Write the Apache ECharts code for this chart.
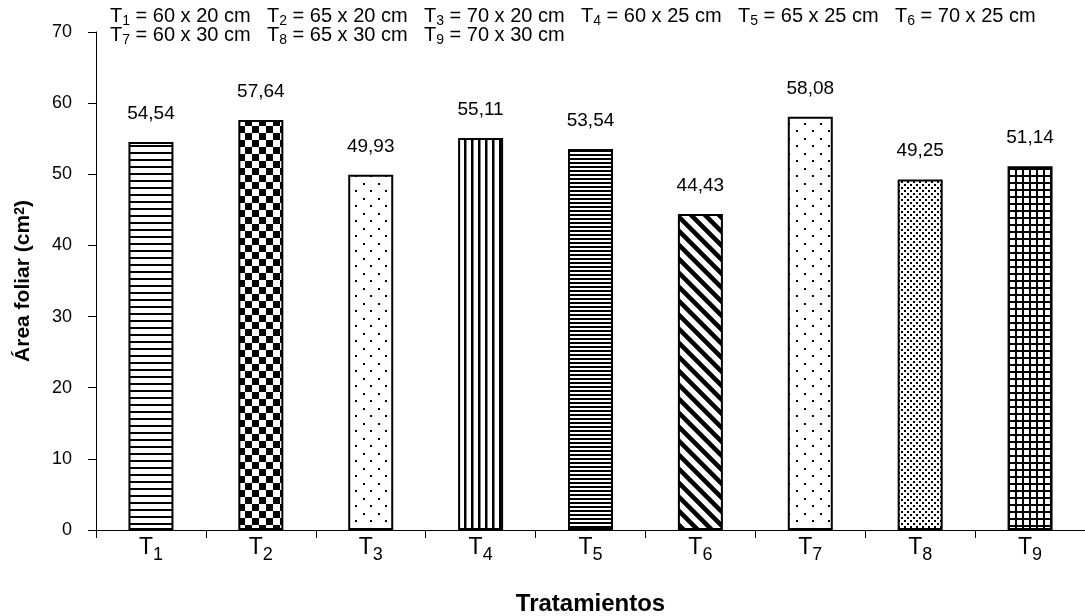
<!DOCTYPE html>
<html>
<head>
<meta charset="utf-8">
<script src="https://cdn.jsdelivr.net/npm/echarts@6/dist/echarts.min.js"></script>
<style>
html,body{margin:0;padding:0;background:#fff;}
#chart{width:1085px;height:616px;}
</style>
</head>
<body>
<div id="chart"></div>
<script>
// ---- data ----
const categories = ['T1','T2','T3','T4','T5','T6','T7','T8','T9'];
const areaFoliar = [54.54, 57.64, 49.93, 55.11, 53.54, 44.43, 58.08, 49.25, 51.14];
const treatmentNames = ['T1','T2','T3','T4','T5','T6','T7','T8','T9'];
const treatmentSpacing = ['60 x 20 cm','65 x 20 cm','70 x 20 cm','60 x 25 cm','65 x 25 cm','70 x 25 cm','60 x 30 cm','65 x 30 cm','70 x 30 cm'];
const yTicks = {min: 0, max: 70, interval: 10};
const xTitle = 'Tratamientos';
const yTitle = 'Área foliar (cm{sup|2})';

const FONT = '"Liberation Sans", Arial, Helvetica, sans-serif';

// ---- fill patterns ----
function mk(w, h, draw) {
  const c = document.createElement('canvas');
  c.width = w; c.height = h;
  const g = c.getContext('2d');
  g.fillStyle = '#fff'; g.fillRect(0, 0, w, h);
  g.fillStyle = '#000'; g.strokeStyle = '#000';
  draw(g, w, h);
  return {image: c, repeat: 'repeat'};
}
const patterns = [
  mk(8, 7, g => g.fillRect(0, 5, 8, 2)),                                   // horizontal lines
  mk(14, 14, g => { g.fillRect(0, 0, 7, 7); g.fillRect(7, 7, 7, 7); }),     // checkerboard
  mk(15, 15, g => { g.fillRect(3, 3, 2, 2); g.fillRect(10, 10, 2, 2); }),   // sparse dots
  mk(7, 4, g => g.fillRect(2, 0, 2.5, 4)),                                  // vertical lines
  mk(6, 4, g => g.fillRect(0, 2, 6, 2)),                                    // dense horizontal
  mk(14, 14, g => { g.lineWidth = 4.5; g.beginPath();
      g.moveTo(-2, -2); g.lineTo(16, 16);
      g.moveTo(-16, -2); g.lineTo(2, 16);
      g.moveTo(12, -2); g.lineTo(30, 16); g.stroke(); }),                  // diagonal "\"
  mk(16, 15, g => { g.fillRect(4, 3, 2, 2); g.fillRect(12, 10, 2, 2); }),   // sparse dots
  mk(6, 6, g => { g.fillRect(1, 1, 2, 2); g.fillRect(4, 4, 2, 2); }),       // dense dots
  mk(7, 7, g => { g.fillRect(0, 0, 7, 2); g.fillRect(0, 0, 2, 7); })       // grid
];

function subLabel(name) {
  return '{t|' + name.charAt(0) + '}{s|' + name.slice(1) + '}';
}

const chart = echarts.init(document.getElementById('chart'), null, {renderer: 'canvas'});

const legendGraphics = treatmentNames.map((n, i) => ({
  type: 'text',
  x: 110 + (i % 6) * 157,
  y: i < 6 ? 18 : 37,
  style: {
    text: subLabel(n) + '{t| = ' + treatmentSpacing[i] + '}',
    fill: '#000',
    align: 'left',
    verticalAlign: 'middle',
    rich: {
      t: {fontSize: 20, fontFamily: FONT, lineHeight: 20, padding: [0, 0, 2, 0], verticalAlign: 'bottom', fill: '#000'},
      s: {fontSize: 14, fontFamily: FONT, lineHeight: 14, verticalAlign: 'bottom', fill: '#000'}
    }
  }
}));

const option = {
  animation: false,
  backgroundColor: '#fff',
  grid: {left: 96, right: 0, top: 32, bottom: 86, containLabel: false, outerBoundsMode: 'none'},
  xAxis: {
    type: 'category',
    data: categories,
    name: xTitle,
    nameLocation: 'middle',
    nameGap: 62,
    nameTextStyle: {fontSize: 24, fontWeight: 'bold', fontFamily: FONT, color: '#000'},
    axisLine: {lineStyle: {color: '#000', width: 1}},
    axisTick: {show: true, length: 8, lineStyle: {color: '#000'}},
    axisLabel: {
      margin: 11,
      formatter: v => subLabel(v),
      rich: {
        t: {fontSize: 23, fontFamily: FONT, color: '#000', lineHeight: 23, padding: [0, 0, 5, 0], verticalAlign: 'bottom'},
        s: {fontSize: 18, fontFamily: FONT, color: '#000', lineHeight: 18, verticalAlign: 'bottom'}
      }
    },
    splitLine: {show: false}
  },
  yAxis: {
    type: 'value',
    min: yTicks.min, max: yTicks.max, interval: yTicks.interval,
    name: yTitle,
    nameLocation: 'middle',
    nameRotate: 90,
    nameGap: 62,
    nameTextStyle: {
      fontSize: 21, fontWeight: 'bold', fontFamily: FONT, color: '#000',
      rich: {sup: {fontSize: 14, fontWeight: 'bold', fontFamily: FONT, color: '#000', verticalAlign: 'top', lineHeight: 21}}
    },
    axisLine: {show: true, lineStyle: {color: '#000', width: 1}},
    axisTick: {show: true, length: 8, lineStyle: {color: '#000'}},
    axisLabel: {fontSize: 18, fontFamily: FONT, color: '#000', margin: 24},
    splitLine: {show: false}
  },
  series: [{
    type: 'bar',
    barWidth: 45,
    data: areaFoliar.map((v, i) => ({
      value: v,
      itemStyle: {color: patterns[i], borderColor: '#000', borderWidth: 2}
    })),
    label: {
      show: true,
      position: 'top',
      distance: 19,
      fontSize: 19,
      fontFamily: FONT,
      color: '#000',
      formatter: p => p.value.toFixed(2).replace('.', ',')
    }
  }],
  graphic: legendGraphics
};
chart.setOption(option);
</script>
</body>
</html>
